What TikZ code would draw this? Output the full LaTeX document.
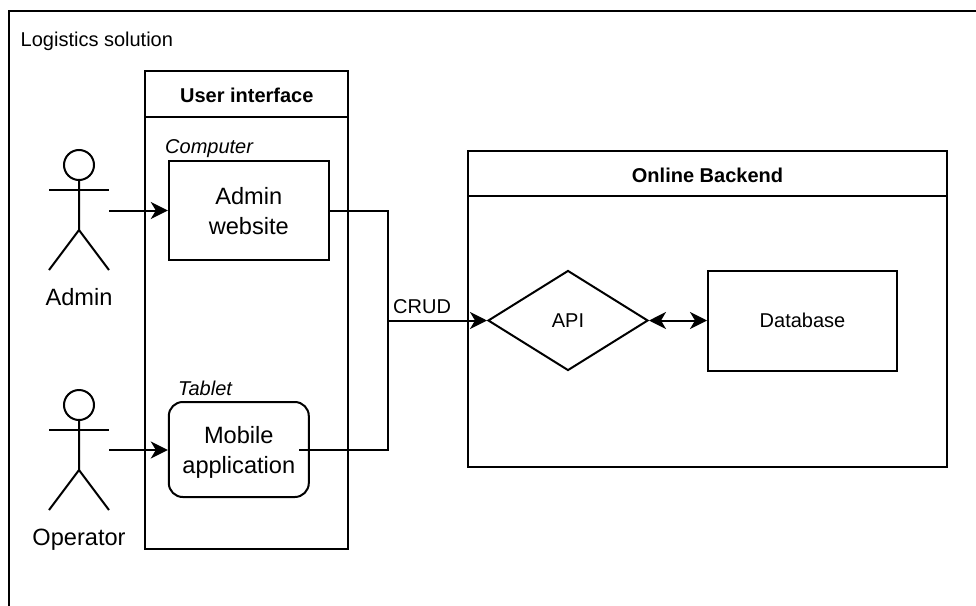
\documentclass[tikz,border=0pt]{standalone}
\usepackage{fontspec}
\setmainfont{Liberation Sans}
\usetikzlibrary{arrows.meta,shapes.geometric}
\tikzset{
  ln/.style={line width=2pt,draw=black,line join=miter},
  tip/.style={-{Stealth[length=17pt,width=17pt,inset=5pt]}},
  bothtips/.style={{Stealth[length=17pt,width=17pt,inset=5pt]}-{Stealth[length=17pt,width=17pt,inset=5pt]}},
  boxn/.style={ln,rectangle,inner sep=0pt,align=center,anchor=center},
  big/.style={font=\fontsize{23.6}{30}\selectfont},
  med/.style={font=\fontsize{20}{24}\selectfont},
  hd/.style={font=\fontsize{20}{24}\selectfont\bfseries},
  ital/.style={font=\fontsize{20}{24}\selectfont\itshape},
  txt/.style={inner sep=0pt,anchor=base},
  actor/.style={ln,line cap=butt}
}
\newcommand{\stick}[2]{%
  \draw[actor] (#1,#2) circle (15);
  \draw[actor] (#1,#2+15) -- (#1,#2+65) -- (#1-30,#2+105);
  \draw[actor] (#1,#2+65) -- (#1+30,#2+105);
  \draw[actor] (#1-30,#2+25) -- (#1+30,#2+25);
}
\begin{document}
\begin{tikzpicture}[x=1pt,y=-1pt]
\useasboundingbox (0,0) rectangle (976,605);
\fill[white] (0,0) rectangle (976,605);
% outer container, cut by the picture edge
\draw[ln] (9,610) -- (9,10.5) -- (980,10.5);
\node[txt,med,anchor=base west] (title) at (20.5,46) {Logistics solution};
% User interface
\node[boxn,minimum width=203pt,minimum height=478pt] (ui) at (246.8,310) {};
\node[boxn,minimum width=203pt,minimum height=46pt,hd,text height=16.5pt,text depth=0pt] (uih) at (246.8,94) {User interface};
% Backend
\node[boxn,minimum width=479pt,minimum height=316pt] (be) at (707.5,309) {};
\node[boxn,minimum width=479pt,minimum height=45pt,hd,text height=18.5pt,text depth=0pt] (beh) at (707.5,173.5) {Online Backend};
% inner nodes
\node[boxn,minimum width=160pt,minimum height=99pt,big,text depth=-2pt] (admin) at (248.8,210.5) {Admin\\website};
\node[boxn,rounded corners=14pt,minimum width=140pt,minimum height=95pt,big,text depth=-1pt] (mobile) at (238.8,449.5) {Mobile\\application};
\node[ln,diamond,aspect=1.6,inner sep=0pt,minimum width=160pt,minimum height=100pt,med] (api) at (568,320.5) {API};
\node[boxn,minimum width=189pt,minimum height=100pt,med] (db) at (802.5,320.5) {Database};
% labels
\node[txt,ital,anchor=base west] (comp) at (165,153) {Computer};
\node[txt,ital,anchor=base west] (tab) at (178,395) {Tablet};
\node[txt,big] (adminl) at (79,305) {Admin};
\node[txt,big] (opl) at (79,545) {Operator};
\node[txt,med,anchor=base west] (crud) at (393,313) {CRUD};
% actors
\stick{79}{165}
\stick{79}{405}
\coordinate (a1) at (109,210.5);
\coordinate (a2) at (109,450);
\coordinate (m1) at (299,450);
\coordinate (j) at (388.2,320.5);
% connectors
\draw[ln,tip] (a1) -- (admin.west);
\draw[ln,tip] (a2) -- (mobile.west |- a2);
\draw[ln] (admin.east) -| (j);
\draw[ln] (m1) -| (j);
\draw[ln,tip] (j) -- (api.west);
\draw[ln,bothtips] (api.east) -- (db.west);
\end{tikzpicture}
\end{document}
